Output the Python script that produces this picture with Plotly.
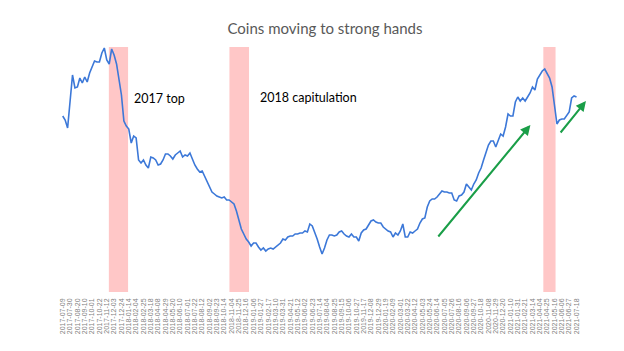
import pandas as pd
import plotly.graph_objects as go

# Weekly series (arbitrary index units)
start_date = "2017-07-09"
end_date = "2021-07-18"
values = [
    176, 172, 164, 192, 217, 204, 205, 214, 209, 215,
    210, 219, 225, 231, 230, 230, 239, 244, 232, 228,
    243, 237, 228, 214, 197, 171, 166, 163, 149, 156,
    154, 132, 129, 132, 127, 124, 135, 134, 132, 127,
    128, 132, 138, 138, 136, 133, 137, 139, 141, 135,
    137, 136, 139, 133, 127, 123, 120, 121, 116, 110,
    105, 100, 98, 96, 95, 94, 95, 92, 92, 90,
    88, 81, 72, 63, 58, 53, 50, 46, 49, 49,
    45, 42, 44, 41, 43, 44, 43, 45, 47, 49,
    53, 52, 55, 56, 56, 58, 58, 59, 59, 61,
    60, 68, 66, 60, 53, 45, 38, 44, 52, 57,
    57, 56, 57, 60, 61, 58, 56, 55, 58, 55,
    55, 51, 59, 62, 63, 67, 71, 72, 70, 69,
    69, 65, 63, 61, 60, 55, 59, 57, 61, 68,
    55, 55, 60, 59, 61, 63, 69, 73, 74, 85,
    91, 93, 93, 95, 98, 101, 100, 100, 99, 99,
    92, 91, 96, 97, 100, 108, 105, 102, 108, 112,
    119, 124, 132, 139, 147, 151, 151, 145, 151, 158,
    156, 165, 178, 176, 176, 190, 195, 191, 194, 191,
    195, 199, 205, 202, 213, 217, 221, 223, 219, 214,
    205, 187, 168, 172, 173, 173, 176, 180, 194, 196,
    195,
]

# Highlighted periods
band_starts = ["2017-11-18", "2018-10-29", "2021-04-14"]
band_ends = ["2018-01-12", "2018-12-24", "2021-05-19"]

# Text labels
label_texts = ["2017 top", "2018 capitulation"]
label_dates = ["2018-01-23", "2019-01-18"]
label_values = [194, 195]

# Trend arrows (tail -> head)
arrow_tail_dates = ["2020-06-14", "2021-05-30"]
arrow_tail_values = [54, 158]
arrow_head_dates = ["2021-03-08", "2021-08-14"]
arrow_head_values = [167, 191]

dates = pd.date_range(start_date, end_date, freq="7D")
tick_dates = pd.date_range(start_date, end_date, freq="21D")
tick_labels = [d.strftime("%Y-%m-%d") for d in tick_dates]

fig = go.Figure()
fig.add_trace(go.Scatter(
    x=dates, y=values, mode="lines",
    line=dict(color="#3C78D8", width=1.6),
    showlegend=False, hoverinfo="skip",
))

shapes = []
for s, e in zip(band_starts, band_ends):
    shapes.append(dict(type="rect", xref="x", yref="paper", x0=s, x1=e, y0=0, y1=1,
                       fillcolor="#FFC7C7", line=dict(width=0), layer="below"))

annotations = []
for t, d, v in zip(label_texts, label_dates, label_values):
    annotations.append(dict(x=d, y=v, xref="x", yref="y", text=t, showarrow=False,
                            xanchor="left", yanchor="middle",
                            font=dict(family="Lato", size=12.5, color="#000000")))
for td, tv, hd, hv in zip(arrow_tail_dates, arrow_tail_values, arrow_head_dates, arrow_head_values):
    annotations.append(dict(x=hd, y=hv, ax=td, ay=tv, xref="x", yref="y", axref="x", ayref="y",
                            text="", showarrow=True, arrowhead=2, arrowsize=1,
                            arrowwidth=2, arrowcolor="#1A9E48"))

fig.update_layout(
    width=624, height=351,
    margin=dict(l=40, r=30, t=47, b=59),
    paper_bgcolor="white", plot_bgcolor="white",
    title=dict(text="Coins moving to strong hands", x=325 / 624, xref="container",
               xanchor="center", y=1 - 29 / 351, yref="container", yanchor="middle",
               font=dict(family="Lato", size=15, color="#595959")),
    shapes=shapes, annotations=annotations,
    xaxis=dict(range=["2017-05-05", "2021-09-06"], tickmode="array",
               tickvals=tick_dates, ticktext=tick_labels, tickangle=-90,
               tickfont=dict(family="Liberation Sans", size=7, color="#7F7F7F"),
               showgrid=False, zeroline=False, showline=False, ticks="",
               automargin=False, ticklabelstandoff=4),
    yaxis=dict(range=[0, 245], visible=False, showgrid=False, zeroline=False),
)

fig.write_html("out.html")
